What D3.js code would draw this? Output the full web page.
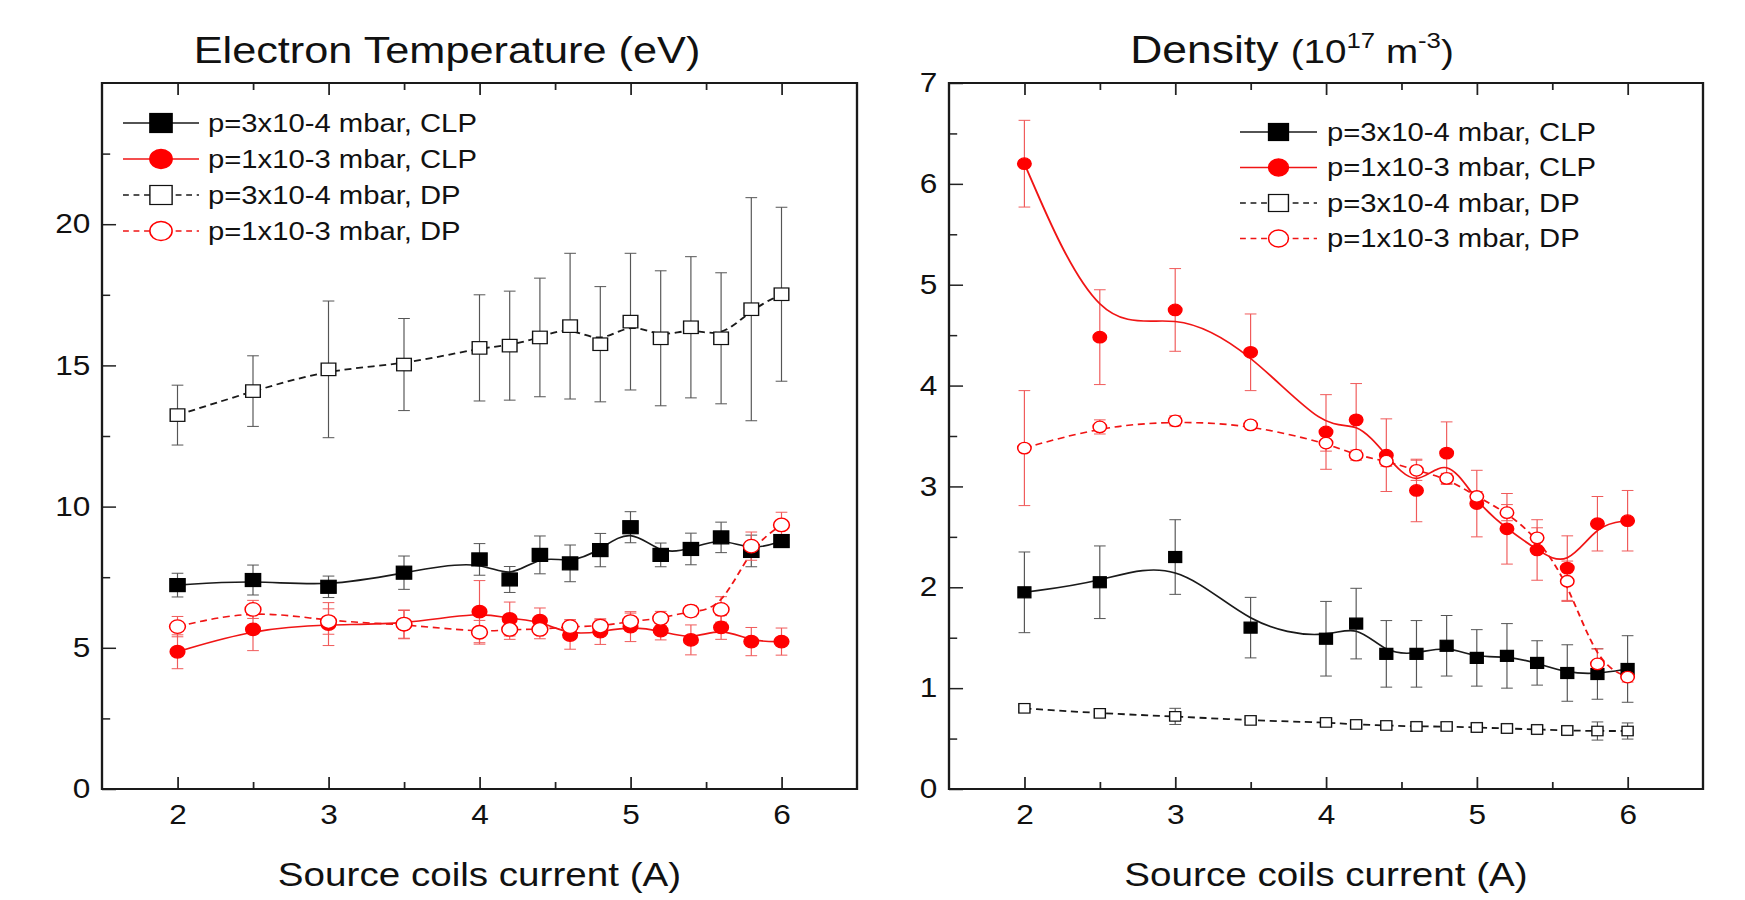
<!DOCTYPE html>
<html>
<head>
<meta charset="utf-8">
<script src="https://cdn.jsdelivr.net/npm/d3@7"></script>
<style>
  body { margin: 0; background: #fff; }
  text { font-family: 'Liberation Sans', Arial, sans-serif; fill: #111; }
</style>
</head>
<body>
<div id="chart"></div>
<script>
// source coils current (A)
const current = [2, 2.5, 3, 3.5, 4, 4.2, 4.4, 4.6, 4.8, 5, 5.2, 5.4, 5.6, 5.8, 6]

// electron temperature (eV)
const teClpLow = [7.22, 7.40, 7.16, 7.66, 8.13, 7.42, 8.29, 7.99, 8.46, 9.27, 8.29, 8.50, 8.91, 8.43, 8.78]
const teClpLowErr = [0.42, 0.53, 0.38, 0.59, 0.56, 0.46, 0.67, 0.65, 0.59, 0.55, 0.42, 0.56, 0.54, 0.56, 0.19]
const teClpHigh = [4.86, 5.65, 5.84, 5.82, 6.28, 6.02, 5.96, 5.45, 5.57, 5.75, 5.61, 5.28, 5.72, 5.22, 5.22]
const teClpHighErr = [0.6, 0.75, 0.76, 0.5, 1.1, 0.6, 0.45, 0.5, 0.45, 0.53, 0.33, 0.53, 0.42, 0.5, 0.48]
const teDpLow = [13.24, 14.09, 14.86, 15.03, 15.62, 15.70, 15.99, 16.39, 15.75, 16.55, 15.96, 16.35, 15.96, 16.99, 17.52]
const teDpLowErr = [1.06, 1.25, 2.42, 1.63, 1.88, 1.93, 2.1, 2.58, 2.04, 2.42, 2.39, 2.5, 2.32, 3.95, 3.08]
const teDpHigh = [5.75, 6.36, 5.93, 5.84, 5.55, 5.65, 5.65, 5.75, 5.77, 5.93, 6.04, 6.30, 6.36, 8.60, 9.35]
const teDpHighErr = [0.36, 0.32, 0.45, 0.5, 0.42, 0.35, 0.33, 0.25, 0.25, 0.3, 0.25, 0.2, 0.45, 0.5, 0.45]

// density (1e17 m^-3)
const neClpLow = [1.95, 2.05, 2.30, 1.60, 1.49, 1.64, 1.34, 1.34, 1.42, 1.30, 1.32, 1.25, 1.15, 1.14, 1.19]
const neClpLowErr = [0.4, 0.36, 0.37, 0.3, 0.37, 0.35, 0.33, 0.33, 0.3, 0.28, 0.32, 0.22, 0.28, 0.25, 0.33]
const neClpHigh = [6.20, 4.48, 4.75, 4.33, 3.54, 3.66, 3.31, 2.96, 3.33, 2.83, 2.58, 2.37, 2.19, 2.63, 2.66]
const neClpHighErr = [0.43, 0.47, 0.41, 0.38, 0.37, 0.36, 0.36, 0.31, 0.31, 0.33, 0.35, 0.3, 0.32, 0.27, 0.3]
const neDpLow = [0.80, 0.75, 0.72, 0.68, 0.66, 0.64, 0.63, 0.62, 0.62, 0.61, 0.60, 0.59, 0.58, 0.575, 0.575]
const neDpLowErr = [0.03, 0.02, 0.08, 0.02, 0.04, 0.04, 0.04, 0.05, 0.04, 0.05, 0.05, 0.05, 0.05, 0.09, 0.08]
const neDpHigh = [3.38, 3.59, 3.65, 3.61, 3.43, 3.31, 3.25, 3.16, 3.08, 2.90, 2.74, 2.49, 2.06, 1.24, 1.11]
const neDpHighErr = [0.57, 0.07, 0.05, 0.04, 0.08, 0.05, 0.05, 0.1, 0.05, 0.05, 0.08, 0.1, 0.2, 0.15, 0.05]

const legendLabels = ['p=3x10-4 mbar, CLP', 'p=1x10-3 mbar, CLP', 'p=3x10-4 mbar, DP', 'p=1x10-3 mbar, DP']

const xMajor = [2, 3, 4, 5, 6]
const xMinor = [2.5, 3.5, 4.5, 5.5]
const teMajor = [0, 5, 10, 15, 20]
const teMinor = [2.5, 7.5, 12.5, 17.5, 22.5]
const neMajor = [0, 1, 2, 3, 4, 5, 6, 7]
const neMinor = [0.5, 1.5, 2.5, 3.5, 4.5, 5.5, 6.5]

const W = 1745
const H = 900
// the original figure is stretched sideways, so draw in a narrower box and stretch it
const stretch = 1.17

const svg = d3
  .select('#chart')
  .append('svg')
  .attr('width', W)
  .attr('height', H)
  .attr('viewBox', [0, 0, W / stretch, H])
  .attr('preserveAspectRatio', 'none')

const looks = [
  { line: '#1a1a1a', bar: '#555', width: 1.6, dash: null, shape: 'square', fill: '#000', stroke: '#000' },
  { line: '#f01515', bar: '#f05a5a', width: 1.6, dash: null, shape: 'circle', fill: '#f00', stroke: '#f00' },
  { line: '#1a1a1a', bar: '#555', width: 1.8, dash: '6,4', shape: 'square', fill: '#fff', stroke: '#111' },
  { line: '#f01515', bar: '#f05a5a', width: 1.6, dash: '6,4', shape: 'circle', fill: '#fff', stroke: '#f00' }
]

function marker(g, shape, cx, cy, size, look) {
  if (shape === 'square') {
    g.append('rect')
      .attr('x', cx - size / 2)
      .attr('y', cy - size / 2)
      .attr('width', size)
      .attr('height', size)
      .attr('fill', look.fill)
      .attr('stroke', look.stroke)
      .attr('stroke-width', 1.2)
  } else {
    g.append('circle')
      .attr('cx', cx)
      .attr('cy', cy)
      .attr('r', size / 2)
      .attr('fill', look.fill)
      .attr('stroke', look.stroke)
      .attr('stroke-width', 1.3)
  }
}

function drawPanel(p) {
  const g = svg.append('g')
  const x = d3.scaleLinear().domain([1.5, 6.5]).range([p.left / stretch, p.right / stretch])
  const y = d3.scaleLinear().domain([0, p.yMax]).range([789, 83])

  // error bars
  p.series.forEach((s, k) => {
    const bars = g.append('g').attr('stroke', looks[k].bar).attr('stroke-width', 1)
    current.forEach((c, i) => {
      const cx = x(c)
      const top = y(s.values[i] + s.errors[i])
      const bot = y(s.values[i] - s.errors[i])
      bars.append('line').attr('x1', cx).attr('x2', cx).attr('y1', top).attr('y2', bot)
      bars.append('line').attr('x1', cx - 5).attr('x2', cx + 5).attr('y1', top).attr('y2', top)
      bars.append('line').attr('x1', cx - 5).attr('x2', cx + 5).attr('y1', bot).attr('y2', bot)
    })
  })

  // smoothed curves
  const line = d3
    .line()
    .x(d => x(d[0]))
    .y(d => y(d[1]))
    .curve(d3.curveBasis)
  p.series.forEach((s, k) => {
    g.append('path')
      .datum(current.map((c, i) => [c, s.values[i]]))
      .attr('d', line)
      .attr('fill', 'none')
      .attr('stroke', looks[k].line)
      .attr('stroke-width', looks[k].width)
      .attr('stroke-dasharray', looks[k].dash)
  })

  // markers
  p.series.forEach((s, k) => {
    const m = g.append('g')
    current.forEach((c, i) => {
      marker(m, looks[k].shape, x(c), y(s.values[i]), p.sizes[k], looks[k])
    })
  })

  // axes, ticks pointing inward
  const tickStyle = sel => {
    sel.select('.domain').remove()
    sel.selectAll('line').attr('stroke', '#222').attr('stroke-width', 1.5)
    sel.selectAll('text').attr('font-size', 27)
  }
  const fmt = d3.format('d')
  g.append('g')
    .attr('transform', 'translate(0,789)')
    .call(d3.axisBottom(x).tickValues(xMajor).tickFormat(fmt).tickSize(-12).tickSizeOuter(0).tickPadding(16))
    .call(tickStyle)
  g.append('g')
    .attr('transform', 'translate(0,789)')
    .call(d3.axisBottom(x).tickValues(xMinor).tickSize(-7).tickSizeOuter(0).tickFormat(''))
    .call(tickStyle)
  g.append('g')
    .attr('transform', 'translate(0,83)')
    .call(d3.axisTop(x).tickValues(xMajor).tickSize(-12).tickSizeOuter(0).tickFormat(''))
    .call(tickStyle)
  g.append('g')
    .attr('transform', 'translate(0,83)')
    .call(d3.axisTop(x).tickValues(xMinor).tickSize(-7).tickSizeOuter(0).tickFormat(''))
    .call(tickStyle)
  g.append('g')
    .attr('transform', 'translate(' + x(1.5) + ',0)')
    .call(d3.axisLeft(y).tickValues(p.major).tickFormat(fmt).tickSize(-12).tickSizeOuter(0).tickPadding(10))
    .call(tickStyle)
  g.append('g')
    .attr('transform', 'translate(' + x(1.5) + ',0)')
    .call(d3.axisLeft(y).tickValues(p.minor).tickSize(-7).tickSizeOuter(0).tickFormat(''))
    .call(tickStyle)

  // frame
  g.append('rect')
    .attr('x', x(1.5))
    .attr('y', y(p.yMax))
    .attr('width', x(6.5) - x(1.5))
    .attr('height', y(0) - y(p.yMax))
    .attr('fill', 'none')
    .attr('stroke', '#1a1a1a')
    .attr('stroke-width', 2)

  // legend
  const lg = g.append('g')
  p.series.forEach((s, k) => {
    const ry = p.legend.y + k * p.legend.dy
    lg.append('line')
      .attr('x1', p.legend.x0 / stretch)
      .attr('x2', p.legend.x1 / stretch)
      .attr('y1', ry)
      .attr('y2', ry)
      .attr('stroke', looks[k].line)
      .attr('stroke-width', 1.5)
      .attr('stroke-dasharray', looks[k].dash ? '5,4' : null)
    marker(lg, looks[k].shape, (p.legend.x0 + p.legend.x1) / 2 / stretch, ry, p.legend.size, looks[k])
    lg.append('text')
      .attr('x', p.legend.tx / stretch)
      .attr('y', ry + 9)
      .attr('font-size', 25)
      .text(legendLabels[k])
  })

  // x axis title
  g.append('text')
    .attr('x', (x(1.5) + x(6.5)) / 2)
    .attr('y', 886)
    .attr('text-anchor', 'middle')
    .attr('font-size', 33)
    .text('Source coils current (A)')

  return g
}

const left = drawPanel({
  left: 102,
  right: 857,
  yMax: 25,
  major: teMajor,
  minor: teMinor,
  sizes: [13, 12.5, 12.5, 13.5],
  series: [
    { values: teClpLow, errors: teClpLowErr },
    { values: teClpHigh, errors: teClpHighErr },
    { values: teDpLow, errors: teDpLowErr },
    { values: teDpHigh, errors: teDpHighErr }
  ],
  legend: { x0: 123, x1: 199, tx: 208, y: 123, dy: 36, size: 19 }
})
left
  .append('text')
  .attr('x', 447 / stretch)
  .attr('y', 63)
  .attr('text-anchor', 'middle')
  .attr('font-size', 37)
  .text('Electron Temperature (eV)')

const right = drawPanel({
  left: 949,
  right: 1703,
  yMax: 7,
  major: neMajor,
  minor: neMinor,
  sizes: [11, 11.5, 9.5, 11.5],
  series: [
    { values: neClpLow, errors: neClpLowErr },
    { values: neClpHigh, errors: neClpHighErr },
    { values: neDpLow, errors: neDpLowErr },
    { values: neDpHigh, errors: neDpHighErr }
  ],
  legend: { x0: 1240, x1: 1317, tx: 1327, y: 132, dy: 35.5, size: 17 }
})
const dt = right
  .append('text')
  .attr('x', 1292 / stretch)
  .attr('y', 63)
  .attr('text-anchor', 'middle')
  .attr('font-size', 38)
dt.append('tspan').text('Density ')
dt.append('tspan').attr('font-size', 33).text('(10')
dt.append('tspan').attr('font-size', 22).attr('dy', -15).text('17')
dt.append('tspan').attr('font-size', 33).attr('dy', 15).text(' m')
dt.append('tspan').attr('font-size', 22).attr('dy', -15).text('-3')
dt.append('tspan').attr('font-size', 33).attr('dy', 15).text(')')
</script>
</body>
</html>
